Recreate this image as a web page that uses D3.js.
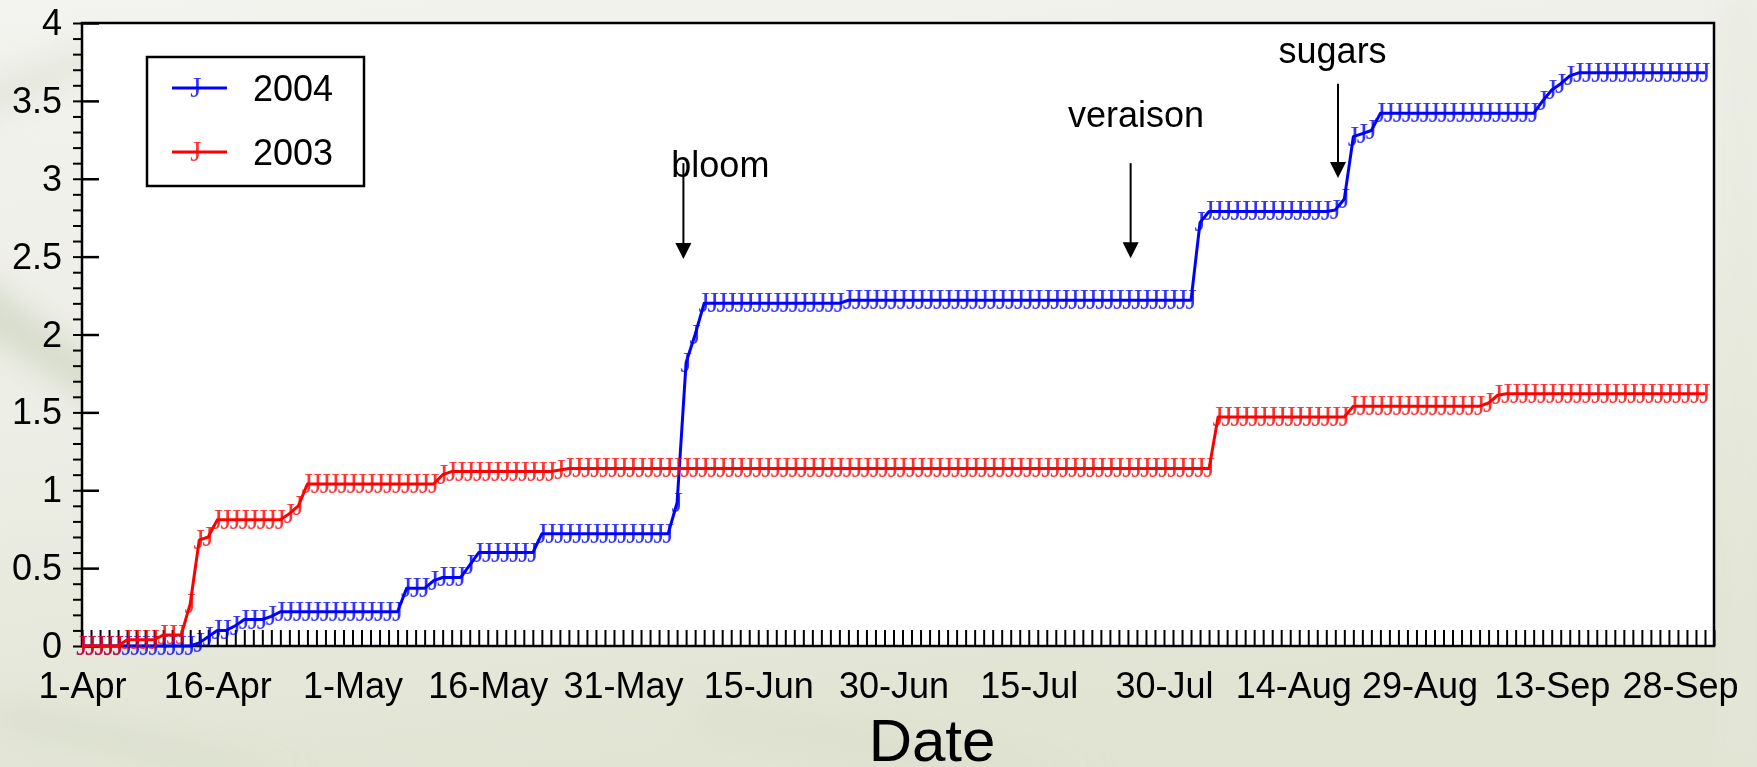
<!DOCTYPE html>
<html><head><meta charset="utf-8">
<script src="https://cdn.jsdelivr.net/npm/d3@7"></script>
<style>html,body{margin:0;padding:0;background:#eceee4;overflow:hidden} svg{display:block}</style>
</head><body><svg id="chart" width="1757" height="767"></svg>
<script>
// ---------- data ----------
// x: days since 1-Apr ; one observation per day (day 0 .. day 180)
const xTickLabels = ["1-Apr","16-Apr","1-May","16-May","31-May","15-Jun","30-Jun","15-Jul","30-Jul","14-Aug","29-Aug","13-Sep","28-Sep"];
const xTickDays   = [0,15,30,45,60,75,90,105,120,135,150,165,180];
const yTickValues = [0,0.5,1,1.5,2,2.5,3,3.5,4];
const yTickLabels = ["0","0.5","1","1.5","2","2.5","3","3.5","4"];
const seriesNames = ["2004","2003"];

const values2004 = [
 0,0,0,0,0,0,0,0,0,0,0,0,
 0,0.02,0.06,0.10,0.10,0.13,0.17,0.17,0.17,0.19,
 0.22,0.22,0.22,0.22,0.22,0.22,0.22,0.22,0.22,0.22,0.22,0.22,0.22,0.22,
 0.37,0.37,0.37,0.42,0.44,0.44,0.44,0.52,
 0.60,0.60,0.60,0.60,0.60,0.60,0.60,
 0.72,0.72,0.72,0.72,0.72,0.72,0.72,0.72,0.72,0.72,0.72,0.72,0.72,0.72,0.72,
 0.92,1.82,2.00,
 2.20,2.20,2.20,2.20,2.20,2.20,2.20,2.20,2.20,2.20,2.20,2.20,2.20,2.20,2.20,2.20,
 2.22,2.22,2.22,2.22,2.22,2.22,2.22,2.22,2.22,2.22,2.22,2.22,2.22,2.22,2.22,2.22,2.22,2.22,2.22,2.22,
 2.22,2.22,2.22,2.22,2.22,2.22,2.22,2.22,2.22,2.22,2.22,2.22,2.22,2.22,2.22,2.22,2.22,2.22,2.22,
 2.72,
 2.79,2.79,2.79,2.79,2.79,2.79,2.79,2.79,2.79,2.79,2.79,2.79,2.79,2.79,
 2.80,2.87,3.27,3.29,3.31,
 3.42,3.42,3.42,3.42,3.42,3.42,3.42,3.42,3.42,3.42,3.42,3.42,3.42,3.42,3.42,3.42,3.42,3.42,
 3.50,3.57,3.61,3.66,
 3.68,3.68,3.68,3.68,3.68,3.68,3.68,3.68,3.68,3.68,3.68,3.68,3.68,3.68,3.68
];
const values2003 = [
 0,0,0,0,0,
 0.04,0.04,0.04,0.04,
 0.07,0.07,0.07,
 0.27,0.68,0.70,
 0.81,0.81,0.81,0.81,0.81,0.81,0.81,0.81,
 0.85,0.90,
 1.04,1.04,1.04,1.04,1.04,1.04,1.04,1.04,1.04,1.04,1.04,1.04,1.04,1.04,1.04,
 1.10,
 1.12,1.12,1.12,1.12,1.12,1.12,1.12,1.12,1.12,1.12,1.12,1.12,
 1.13,
 1.14,1.14,1.14,1.14,1.14,1.14,1.14,1.14,1.14,1.14,1.14,1.14,1.14,1.14,1.14,1.14,1.14,1.14,
 1.14,1.14,1.14,1.14,1.14,1.14,1.14,1.14,1.14,1.14,1.14,1.14,1.14,1.14,1.14,1.14,1.14,1.14,
 1.14,1.14,1.14,1.14,1.14,1.14,1.14,1.14,1.14,1.14,1.14,1.14,1.14,1.14,1.14,1.14,1.14,1.14,
 1.14,1.14,1.14,1.14,1.14,1.14,1.14,1.14,1.14,1.14,1.14,1.14,1.14,1.14,1.14,1.14,1.14,1.14,
 1.47,1.47,1.47,1.47,1.47,1.47,1.47,1.47,1.47,1.47,1.47,1.47,1.47,1.47,1.47,
 1.54,1.54,1.54,1.54,1.54,1.54,1.54,1.54,1.54,1.54,1.54,1.54,1.54,1.54,1.54,
 1.56,1.61,
 1.62,1.62,1.62,1.62,1.62,1.62,1.62,1.62,1.62,1.62,1.62,1.62,1.62,1.62,1.62,1.62,1.62,1.62,1.62,1.62,1.62,1.62,1.62
];

// annotations (data coordinates)
const annotationLabels = ["bloom","veraison","sugars"];
const annotationArrowDay = [66.7, 116.3, 139.3];
const annotationArrowTop = [3.10, 3.10, 3.61];
const annotationArrowTip = [2.485, 2.49, 3.005];
const annotationTextDay  = [70.8, 116.9, 138.7];
const annotationTextY    = [3.01, 3.33, 3.74];

(function(){
// ---------- layout / style ----------
const W = 1757, H = 767;
const pL = 82, pR = 1714, pT = 23, pB = 646;
const colors = {"2004":"#0000ff","2003":"#ff0000"};
const sans = "'Liberation Sans', Arial, Helvetica, sans-serif";
const serif = "'Liberation Serif', 'Times New Roman', serif";
// the last labels are nudged left in the original so they fit the page
const labelNudge = {135:-6, 150:-15, 165:-18, 180:-25};

const svg = d3.select("#chart");

// background
const defs = svg.append("defs");
const bg = defs.append("linearGradient").attr("id","bg").attr("x1",0).attr("y1",0).attr("x2",0.3).attr("y2",1);
bg.append("stop").attr("offset","0%").attr("stop-color","#f3f3ef");
bg.append("stop").attr("offset","55%").attr("stop-color","#ecede4");
bg.append("stop").attr("offset","100%").attr("stop-color","#e1e4d3");
const blur = defs.append("filter").attr("id","blur").attr("x","-50%").attr("y","-50%").attr("width","200%").attr("height","200%");
blur.append("feGaussianBlur").attr("stdDeviation",14);
svg.append("rect").attr("width",W).attr("height",H).attr("fill","url(#bg)");
const streaks = svg.append("g").attr("filter","url(#blur)");
streaks.append("path").attr("d","M-40,260 L120,380 L120,420 L-40,320 Z").attr("fill","#cfd4c0").attr("opacity",0.7);
streaks.append("path").attr("d","M-40,90 L100,40 L100,70 L-40,130 Z").attr("fill","#dfe2d4").attr("opacity",0.7);
streaks.append("path").attr("d","M0,700 L300,767 L200,767 L0,730 Z").attr("fill","#d6dac8").attr("opacity",0.6);
streaks.append("path").attr("d","M700,700 L1100,767 L900,767 L700,725 Z").attr("fill","#d9dccb").attr("opacity",0.5);
streaks.append("path").attr("d","M1725,0 L1757,0 L1757,767 L1725,767 Z").attr("fill","#e6e8db").attr("opacity",0.6);

// scales
const x = d3.scaleLinear().domain([0,181]).range([pL,pR]);
const y = d3.scaleLinear().domain([0,4]).range([pB,pT]);

// plot area
svg.append("rect").attr("x",pL).attr("y",pT).attr("width",pR-pL).attr("height",pB-pT)
  .attr("fill","#ffffff");

// x daily ticks (inward)
const xMinor = svg.append("g").attr("transform",`translate(0,${pB})`)
  .call(d3.axisBottom(x).tickValues(d3.range(0,182)).tickSizeInner(-16).tickSizeOuter(0).tickFormat(""));
xMinor.select(".domain").remove();
xMinor.selectAll("line").attr("stroke","#000").attr("stroke-width",2);

// x labels
const xLab = svg.append("g").attr("transform",`translate(0,${pB})`)
  .call(d3.axisBottom(x).tickValues(xTickDays).tickSize(0).tickPadding(26).tickFormat((d,i)=>xTickLabels[i]));
xLab.select(".domain").remove();
xLab.selectAll("text").attr("font-family",sans).attr("font-size",36).attr("fill","#000")
  .attr("dx",d=>labelNudge[d]||0);

// y minor ticks (outward)
const yMinor = svg.append("g").attr("transform",`translate(${pL},0)`)
  .call(d3.axisLeft(y).tickValues(d3.range(0,41).map(i=>i/10)).tickSizeInner(9).tickSizeOuter(0).tickFormat(""));
yMinor.select(".domain").remove();
yMinor.selectAll("line").attr("stroke","#000").attr("stroke-width",2);

// y major ticks (inward) + labels
const yMaj = svg.append("g").attr("transform",`translate(${pL},0)`)
  .call(d3.axisLeft(y).tickValues(yTickValues).tickSizeInner(-17).tickSizeOuter(0).tickPadding(20)
    .tickFormat((d,i)=>yTickLabels[i]));
yMaj.select(".domain").remove();
yMaj.selectAll("line").attr("stroke","#000").attr("stroke-width",2.5);
yMaj.selectAll("text").attr("font-family",sans).attr("font-size",36).attr("fill","#000");

// frame
svg.append("rect").attr("x",pL).attr("y",pT).attr("width",pR-pL).attr("height",pB-pT)
  .attr("fill","none").attr("stroke","#000").attr("stroke-width",2.5);

// series
const seriesData = [values2004, values2003];
const line = d3.line().x((d,i)=>x(i)).y(d=>y(d));
seriesNames.forEach((name,k)=>{
  const vals = seriesData[k];
  const g = svg.append("g");
  g.append("path").datum(vals).attr("d",line).attr("fill","none")
    .attr("stroke",colors[name]).attr("stroke-width",3).attr("stroke-linejoin","round");
  g.selectAll("text").data(vals).join("text")
    .attr("x",(d,i)=>x(i)).attr("y",d=>y(d)+9)
    .attr("text-anchor","middle").attr("font-family",serif).attr("font-size",29)
    .attr("fill",colors[name]).attr("fill-opacity",0.8).text("J");
});

// legend
const lg = svg.append("g");
lg.append("rect").attr("x",147).attr("y",57).attr("width",217).attr("height",129)
  .attr("fill","#fff").attr("stroke","#000").attr("stroke-width",2.5);
seriesNames.forEach((name,k)=>{
  const ly = 88 + k*64;
  lg.append("line").attr("x1",172).attr("x2",227).attr("y1",ly).attr("y2",ly)
    .attr("stroke",colors[name]).attr("stroke-width",3);
  lg.append("text").attr("x",196).attr("y",ly+9).attr("text-anchor","middle")
    .attr("font-family",serif).attr("font-size",29).attr("fill",colors[name]).attr("fill-opacity",0.8).text("J");
  lg.append("text").attr("x",253).attr("y",ly+13).attr("font-family",sans).attr("font-size",36)
    .attr("fill","#000").text(name);
});

// annotations
annotationLabels.forEach((t,i)=>{
  const ax = x(annotationArrowDay[i]);
  const y1 = y(annotationArrowTop[i]), y2 = y(annotationArrowTip[i]);
  svg.append("line").attr("x1",ax).attr("x2",ax).attr("y1",y1).attr("y2",y2-14)
    .attr("stroke","#000").attr("stroke-width",2);
  svg.append("path").attr("d",`M${ax-8},${y2-16} L${ax+8},${y2-16} L${ax},${y2} Z`).attr("fill","#000");
  svg.append("text").attr("x",x(annotationTextDay[i])).attr("y",y(annotationTextY[i]))
    .attr("text-anchor","middle").attr("font-family",sans).attr("font-size",36).attr("fill","#000").text(t);
});

// axis title
svg.append("text").attr("x",932).attr("y",761).attr("text-anchor","middle")
  .attr("font-family",sans).attr("font-size",60).attr("fill","#000").text("Date");
})();
</script>
</body></html>
